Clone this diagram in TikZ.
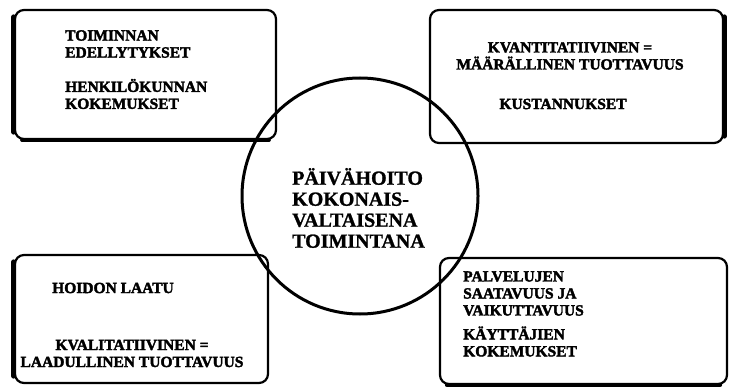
\documentclass[tikz,border=0pt]{standalone}
\usepackage{fontspec}
\setmainfont{Liberation Serif}
\newfontfamily\scanfont{Liberation Serif}[BoldFeatures={FakeBold=2.4}]
\newfontfamily\hubfont{Liberation Serif}[BoldFeatures={FakeBold=1.2}]
\usepackage{tikz}
\usetikzlibrary{positioning}

\begin{document}
\begin{tikzpicture}[x=1pt,y=-1pt,
		area/.style={draw,line width=2.2pt,rounded corners=9pt,minimum width=#1,inner sep=0pt},
		shade side/.style={line width=5pt,line cap=round},
		boxtext/.style={font=\scanfont\bfseries\fontsize{15.5}{17}\selectfont,inner sep=0pt},
		hubtext/.style={font=\hubfont\bfseries\fontsize{20}{21}\selectfont,inner sep=0pt,align=left}]
		\useasboundingbox (0,0) rectangle (730,387);
		% four boxes round the centre
		\node[area=261pt,minimum height=129pt] (tl) at (145.5,74.5) {};
		\node[area=293pt,minimum height=133pt] (tr) at (576.5,76.5) {};
		\node[area=253pt,minimum height=128pt] (bl) at (141.5,319) {};
		\node[area=287pt,minimum height=126pt] (br) at (583.5,321) {};
		% heavy edges
		\draw[shade side] ([yshift=-8pt]tl.north west) -- ([yshift=8pt]tl.south west);
		\draw[shade side,line width=3.5pt] ([xshift=8pt]tl.south west) -- ([xshift=-8pt]tl.south east);
		\draw[shade side] ([yshift=-8pt]tr.north east) -- ([yshift=8pt]tr.south east);
		\draw[shade side] ([yshift=-8pt]bl.north west) -- ([yshift=8pt]bl.south west);
		\draw[shade side,line width=4pt] ([xshift=8pt]br.south west) -- ([xshift=-8pt]br.south east);
		% centre
		\node[draw,circle,line width=3pt,minimum size=236pt,inner sep=0pt] (hub) at (360,196) {};
		\node[hubtext,anchor=west] (hubt) at (292,208) {PÄIVÄHOITO\\KOKONAIS-\\VALTAISENA\\TOIMINTANA};
		% texts
		\node[boxtext,align=left,anchor=west] (tl1) at (65,44) {TOIMINNAN\\EDELLYTYKSET};
		\node[boxtext,align=left,anchor=west] (tl2) at (65,94) {HENKILÖKUNNAN\\KOKEMUKSET};
		\node[boxtext,align=center] (tr1) at (570,56) {KVANTITATIIVINEN =\\MÄÄRÄLLINEN TUOTTAVUUS};
		\node[boxtext] (tr2) at (563,104) {KUSTANNUKSET};
		\node[boxtext,anchor=west] (bl1) at (52,288) {HOIDON LAATU};
		\node[boxtext,align=center] (bl2) at (132,353.5) {KVALITATIIVINEN =\\LAADULLINEN TUOTTAVUUS};
		\node[boxtext,align=left,anchor=west] (br1) at (463,293.5) {PALVELUJEN\\SAATAVUUS JA\\VAIKUTTAVUUS};
		\node[boxtext,align=left,anchor=west] (br2) at (463,341.5) {KÄYTTÄJIEN\\KOKEMUKSET};
	\end{tikzpicture}
\end{document}
